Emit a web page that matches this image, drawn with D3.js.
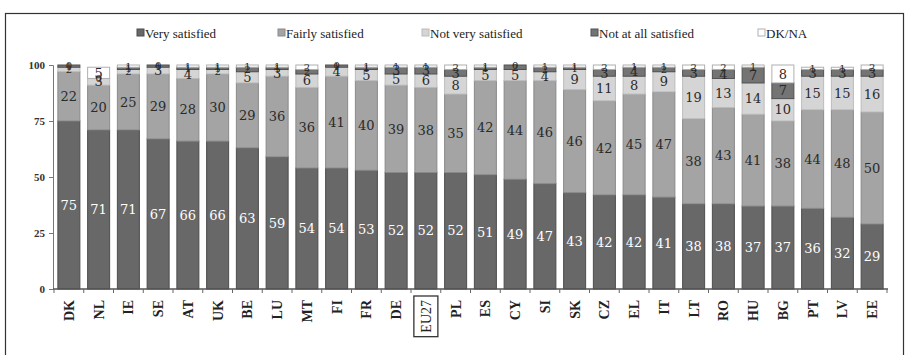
<!DOCTYPE html>
<html>
<head>
<meta charset="utf-8">
<script src="https://cdn.jsdelivr.net/npm/d3@7"></script>
<style>
  html, body { margin: 0; padding: 0; background: #fff; }
  svg { display: block; }
</style>
</head>
<body>
<svg id="chart" width="907" height="355"></svg>
<script>
// Satisfaction with life, by country (%)
const countries = ["DK","NL","IE","SE","AT","UK","BE","LU","MT","FI","FR","DE","EU27","PL","ES","CY","SI","SK","CZ","EL","IT","LT","RO","HU","BG","PT","LV","EE"];
const verySatisfied     = [75,71,71,67,66,66,63,59,54,54,53,52,52,52,51,49,47,43,42,42,41,38,38,37,37,36,32,29];
const fairlySatisfied   = [22,20,25,29,28,30,29,36,36,41,40,39,38,35,42,44,46,46,42,45,47,38,43,41,38,44,48,50];
const notVerySatisfied  = [2,3,2,3,4,2,5,3,6,4,5,5,6,8,5,5,4,9,11,8,9,19,13,14,10,15,15,16];
const notAtAllSatisfied = [1,0,1,1,1,1,2,1,2,1,1,3,3,3,1,2,2,1,3,4,2,3,4,7,7,3,3,3];
const dkNa              = [0,5,1,0,1,1,1,1,2,0,1,1,1,2,1,0,1,1,2,1,1,2,2,1,8,1,1,2];
const seriesNames = ["Very satisfied","Fairly satisfied","Not very satisfied","Not at all satisfied","DK/NA"];
const yTicks = [0,25,50,75,100];
const highlighted = "EU27";

const seriesKeys = ["very","fairly","notVery","notAtAll","dkna"];
const fills   = ["#686868","#a4a4a4","#d5d5d5","#747474","#ffffff"];
const strokes = ["#4d4d4d","#8a8a8a","#bcbcbc","#505050","#b0b0b0"];
const textFills = ["#ffffff","#2a2a2a","#2a2a2a","#2a2a2a","#2a2a2a"];

const rows = countries.map((c, i) => ({
  country: c,
  very: verySatisfied[i],
  fairly: fairlySatisfied[i],
  notVery: notVerySatisfied[i],
  notAtAll: notAtAllSatisfied[i],
  dkna: dkNa[i]
}));

const svg = d3.select("#chart");
const serif = "'Liberation Serif', 'Times New Roman', Times, serif";
const numFont = "'DejaVu Serif', Georgia, serif";

// outer frame
svg.append("rect")
  .attr("x", 5.5).attr("y", 13.5)
  .attr("width", 898).attr("height", 360)
  .attr("fill", "none").attr("stroke", "#333").attr("stroke-width", 1.2);

const x = d3.scaleBand().domain(countries).range([54, 887]).paddingInner(0.26).paddingOuter(0.13);
const y = d3.scaleLinear().domain([0, 100]).range([289, 65]);

const stacked = d3.stack().keys(seriesKeys)(rows);

const layers = svg.append("g").selectAll("g.layer")
  .data(stacked).join("g")
  .attr("class", "layer")
  .attr("fill", (d, i) => fills[i])
  .attr("stroke", (d, i) => strokes[i]);

layers.selectAll("rect")
  .data(d => d)
  .join("rect")
  .attr("x", d => x(d.data.country))
  .attr("width", x.bandwidth())
  .attr("y", d => y(d[1]))
  .attr("height", d => Math.max(0, y(d[0]) - y(d[1])))
  .attr("stroke-width", 1);

// value labels centred in each segment; thin segments get a smaller figure
const labelLayers = svg.append("g").selectAll("g.lab")
  .data(stacked).join("g")
  .attr("fill", (d, i) => textFills[i]);

labelLayers.selectAll("text")
  .data(d => d.map(p => ({p, key: d.key})))
  .join("text")
  .attr("x", d => x(d.p.data.country) + x.bandwidth() / 2)
  .attr("y", d => (y(d.p[0]) + y(d.p[1])) / 2)
  .attr("dy", "0.36em")
  .attr("text-anchor", "middle")
  .attr("font-family", numFont)
  .attr("font-size", d => d.p.data[d.key] <= 2 ? 10 : 13)
  .text(d => d.p.data[d.key]);

// y axis
const yAxis = d3.axisLeft(y).tickValues(yTicks).tickSize(4).tickPadding(4);
const gy = svg.append("g").attr("transform", "translate(53,0)").call(yAxis);
gy.select(".domain").attr("stroke", "#777");
gy.selectAll(".tick line").attr("stroke", "#777");
gy.selectAll(".tick text")
  .attr("font-family", serif).attr("font-weight", "bold")
  .attr("font-size", 11).attr("fill", "#333");

// x axis with ticks at band boundaries
const gx = svg.append("g").attr("transform", "translate(0,289)");
gx.append("line")
  .attr("x1", 53).attr("x2", 888)
  .attr("stroke", "#555").attr("stroke-width", 1.5);
const halfGap = x.step() * x.paddingInner() / 2;
const boundaries = countries.map(c => x(c) - halfGap)
  .concat([x(countries[countries.length - 1]) + x.bandwidth() + halfGap]);
gx.selectAll("line.tk").data(boundaries).join("line")
  .attr("class", "tk")
  .attr("x1", d => d).attr("x2", d => d)
  .attr("y1", 0).attr("y2", 4)
  .attr("stroke", "#666");

const xlabels = gx.selectAll("text.cat").data(countries).join("text")
  .attr("class", "cat")
  .attr("transform", d => `translate(${x(d) + x.bandwidth() / 2},11) rotate(-90)`)
  .attr("text-anchor", "end")
  .attr("dy", "0.35em")
  .attr("font-family", serif)
  .attr("font-weight", d => d === highlighted ? "normal" : "bold")
  .attr("font-size", 14)
  .attr("fill", "#222")
  .text(d => d);

// box round the EU average label
xlabels.filter(d => d === highlighted).each(function(d) {
  const bb = this.getBBox();
  const cx = x(d) + x.bandwidth() / 2;
  gx.append("rect")
    .attr("x", cx - 12).attr("y", 7)
    .attr("width", 24).attr("height", bb.width + 8)
    .attr("fill", "none").attr("stroke", "#333").attr("stroke-width", 1.3);
});

// legend
const legendX = [137, 278, 422, 591, 758];
const legend = svg.append("g").selectAll("g").data(seriesNames).join("g")
  .attr("transform", (d, i) => `translate(${legendX[i]},33)`);
legend.append("rect")
  .attr("x", 0).attr("y", -4).attr("width", 7).attr("height", 7)
  .attr("fill", (d, i) => fills[i])
  .attr("stroke", (d, i) => strokes[i]);
legend.append("text")
  .attr("x", 8).attr("y", 0).attr("dy", "0.35em")
  .attr("font-family", serif).attr("font-size", 13).attr("fill", "#222")
  .text(d => d);
</script>
</body>
</html>
